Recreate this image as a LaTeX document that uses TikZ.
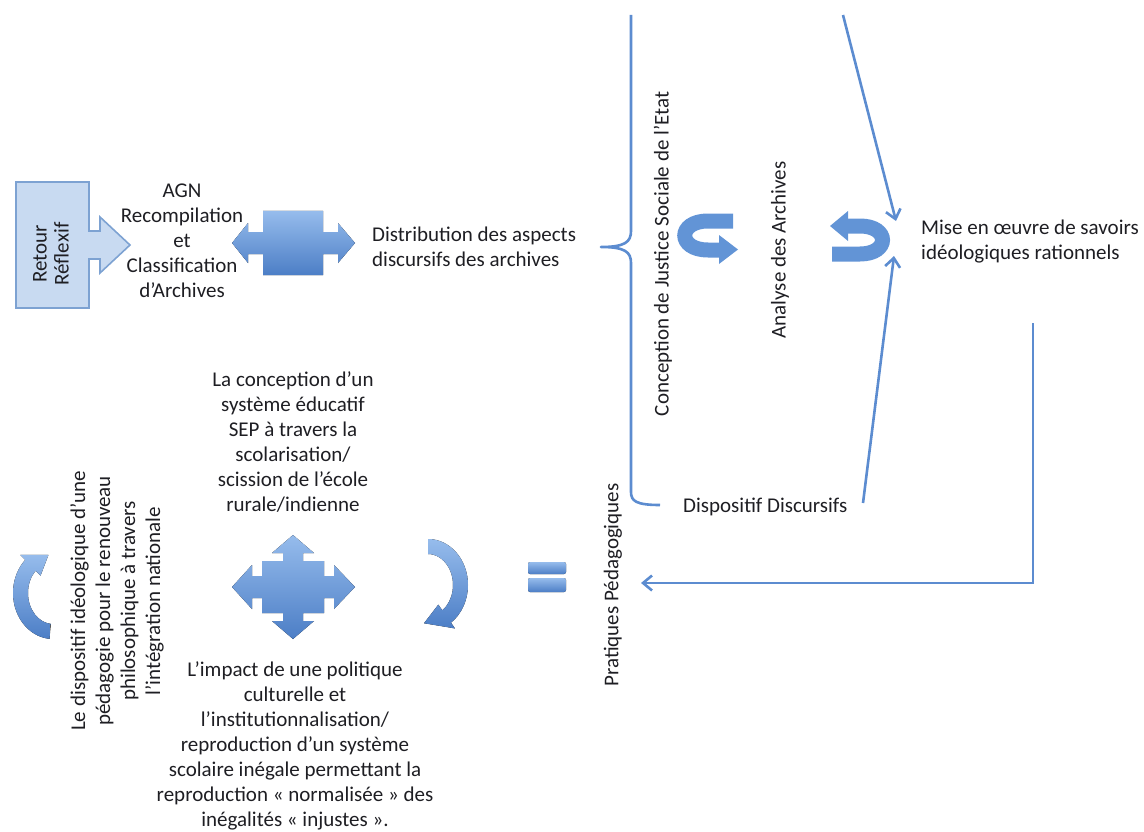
\documentclass[tikz,border=0pt]{standalone}
\usepackage{fontspec}
\setmainfont{Carlito}
\usetikzlibrary{arrows.meta,calc}
\definecolor{lineblue}{RGB}{92,140,208}
\definecolor{boxfill}{RGB}{200,218,241}
\definecolor{boxline}{RGB}{125,162,210}
\definecolor{shapetop}{RGB}{150,188,236}
\definecolor{shapebot}{RGB}{76,126,198}
\definecolor{shapemid}{RGB}{98,148,214}
\definecolor{txt}{RGB}{30,30,35}
\begin{document}
\begin{tikzpicture}[x=1pt,y=-1pt,
  font=\fontsize{21}{25}\selectfont,
  lbl/.style={inner sep=0pt, align=center, text=txt},
  thinline/.style={draw=lineblue, line width=2.6pt},
  arr/.style={thinline, -{Straight Barb[length=9pt,width=15pt]}},
  blockshape/.style={top color=shapetop, bottom color=shapebot, draw=none},
  band/.style={draw=shapemid, line width=15pt, line cap=butt},
  headfill/.style={fill=shapemid, draw=none},
  calloutbox/.style={fill=boxfill, draw=boxline, line width=1.6pt, line join=miter}]
\useasboundingbox (0,0) rectangle (1144,832);

% --- Retour Reflexif callout
\draw[calloutbox] (16,182) -- (89,182) -- (89,231) -- (100,231) -- (100,217) -- (130,245)
  -- (100,273) -- (100,259) -- (89,259) -- (89,308) -- (16,308) -- cycle;
\node[lbl, rotate=90, font=\fontsize{21}{22}\selectfont] (retour) at (51,254) {Retour\\Réflexif};

% --- AGN text
\node[lbl] (agn) at (182,241) {AGN\\Recompilation\\et\\Classification\\d’Archives};

% --- left-right arrow callout
\fill[blockshape] (263,211) -- (323,211) -- (323,232) -- (338,232) -- (338,223) -- (355,243)
  -- (338,263) -- (338,254) -- (323,254) -- (323,275) -- (263,275) -- (263,254) -- (248,254)
  -- (248,263) -- (232,243) -- (248,223) -- (248,232) -- (263,232) -- cycle;

\node[lbl, anchor=west, align=left] (distr) at (372,247) {Distribution des aspects\\discursifs des archives};

% --- brace
\coordinate (braceTop) at (631,15);
\coordinate (braceTip) at (601,247);
\coordinate (braceEnd) at (660,505);
\draw[thinline, line join=round] (braceTop) -- (631,231) .. controls (631,242) and (625,247) .. (braceTip)
  .. controls (625,247) and (631,252) .. (631,263) -- (631,492) .. controls (631,501) and (636,505) .. (braceEnd);

\node[lbl, rotate=90] (concep) at (663,254) {Conception de Justice Sociale de l’Etat};
\node[lbl, rotate=90] (analyse) at (780,250) {Analyse des Archives};

% --- U-turn arrow A
\draw[band] (733,221) -- (708,221) .. controls (677,221) and (677,250) .. (708,250) -- (720,250);
\fill[headfill] (719,235) -- (738,249.5) -- (719,264) -- cycle;

% --- U-turn arrow B
\draw[band] (832,254) -- (860,254) .. controls (890,254) and (890,226) .. (860,226) -- (848,226);
\fill[headfill] (848,211) -- (830,226) -- (848,241) -- cycle;

% --- Mise en oeuvre
\node[lbl, anchor=west, align=left] (mise) at (921,242) {Mise en œuvre de savoirs\\idéologiques rationnels};

% --- thin arrows to Mise
\coordinate (topA) at (843,15);
\coordinate (miseIn1) at (896,221);
\draw[arr] (topA) -- (miseIn1);
\node[lbl, anchor=west] (dispo) at (683,507) {Dispositif Discursifs};
\coordinate (dispoOut) at (863,503);
\coordinate (miseIn2) at (894,256);
\draw[arr] (dispoOut) -- (miseIn2);

% --- return arrow to Pratiques
\node[lbl, rotate=90] (prat) at (613,585) {Pratiques Pédagogiques};
\coordinate (rtop) at (1033,323);
\coordinate (pratIn) at (641,583);
\draw[arr, line join=miter] (rtop) |- (pratIn);

% --- equals sign
\fill[blockshape, rounded corners=2pt] (528,562) rectangle (566,574);
\fill[blockshape, rounded corners=2pt] (528,578) rectangle (566,592);

% --- right curved arrow ) : flat end on top, head at bottom
\begin{scope}[shift={(428,585)}]
\fill[blockshape] (90:40pt and 46pt) arc[start angle=90, end angle=-55, x radius=40pt, y radius=46pt]
  -- (-55:47pt and 53pt) -- (-97:32.5pt and 38.5pt) -- (-55:18pt and 24pt) -- (-55:25pt and 31pt)
  arc[start angle=-55, end angle=90, x radius=25pt, y radius=31pt] -- cycle;
\end{scope}

% --- left curved arrow ( : flat end at bottom, head on top
\begin{scope}[shift={(53,593)}]
\fill[blockshape] (265:40pt and 46pt) arc[start angle=265, end angle=134, x radius=40pt, y radius=46pt]
  -- (134:47pt and 53pt) -- (98:32.5pt and 38.5pt) -- (134:18pt and 24pt) -- (134:25pt and 31pt)
  arc[start angle=134, end angle=265, x radius=25pt, y radius=31pt] -- cycle;
\end{scope}

% --- four-way arrow
\fill[blockshape] (293,535) -- (314,553) -- (303,553) -- (303,561) -- (324,561) -- (324,576)
  -- (334,576) -- (334,565) -- (355,587) -- (334,609) -- (334,598) -- (324,598) -- (324,613)
  -- (303,613) -- (303,621) -- (314,621) -- (293,639) -- (272,621) -- (283,621) -- (283,613)
  -- (262,613) -- (262,598) -- (252,598) -- (252,609) -- (232,587) -- (252,565) -- (252,576)
  -- (262,576) -- (262,561) -- (283,561) -- (283,553) -- (272,553) -- cycle;

\node[lbl] (concsys) at (293,442) {La conception d’un\\système éducatif\\SEP à travers la\\scolarisation/\\scission de l’école\\rurale/indienne};
\node[lbl] (impact) at (295,746) {L’impact de une politique\\culturelle et\\l’institutionnalisation/\\reproduction d’un système\\scolaire inégale permettant la\\reproduction « normalisée » des\\inégalités « injustes ».};
\node[lbl, rotate=90] (dispideo) at (117,601) {Le dispositif idéologique d’une\\pédagogie pour le renouveau\\philosophique à travers\\l’intégration nationale};
\end{tikzpicture}
\end{document}
